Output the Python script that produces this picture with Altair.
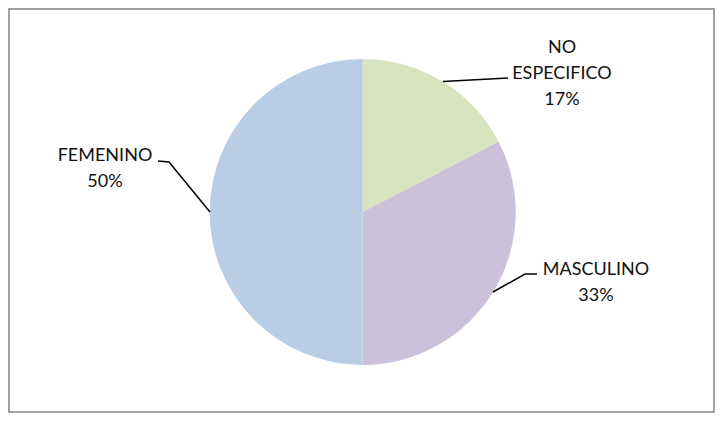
import altair as alt
import pandas as pd

# --- data ---
categories = ["NO ESPECIFICO", "MASCULINO", "FEMENINO"]
values = [17.4, 32.6, 50.0]
colors = ["#D7E4BD", "#CCC1DA", "#B9CDE5"]

# --- layout (pixels inside the chart) ---
W, H = 707, 405
CX, CY, R = 354.7, 204, 153
label_x = [554, 588, 97]
label_y = [45, 267, 153]
leader_x = [[435, 500], [485, 517, 529], [150, 161, 202]]
leader_y = [[73.5, 70], [284, 266, 266], [153, 154, 204]]

pie_df = pd.DataFrame({"cat": categories, "value": values, "idx": range(len(categories))})

lab_df = pd.DataFrame({
    "cat": categories,
    "text": ["\n".join(c.split(" ") + [f"{round(v):d}%"]) for c, v in zip(categories, values)],
    "lx": label_x,
    "ly": label_y,
})

rows = []
for c, xs, ys in zip(categories, leader_x, leader_y):
    for i, (x, y) in enumerate(zip(xs, ys)):
        rows.append({"cat": c, "i": i, "x": x, "y": y})
line_df = pd.DataFrame(rows)

frame = alt.Chart(pd.DataFrame({"a": [0]})).mark_rect(
    fill="white", stroke="#868686", strokeWidth=1.5
).encode(
    x=alt.value(1), x2=alt.value(W - 1), y=alt.value(1), y2=alt.value(H - 1)
)

pie = alt.Chart(pie_df).mark_arc(outerRadius=R).encode(
    theta=alt.Theta("value:Q", stack=True),
    color=alt.Color("cat:N", scale=alt.Scale(domain=categories, range=colors), legend=None),
    order=alt.Order("idx:Q"),
    x=alt.value(CX),
    y=alt.value(CY),
)

labels = alt.Chart(lab_df).mark_text(
    font="Lato", fontSize=18, color="#111111", align="center", baseline="alphabetic",
    lineBreak="\n", lineHeight=26,
).encode(
    x=alt.X("lx:Q", scale=None),
    y=alt.Y("ly:Q", scale=None),
    text="text:N",
)

leaders = alt.Chart(line_df).mark_line(color="#000000", strokeWidth=1.5).encode(
    x=alt.X("x:Q", scale=None),
    y=alt.Y("y:Q", scale=None),
    detail="cat:N",
    order="i:Q",
)

chart = alt.layer(frame, pie, leaders, labels).properties(
    width=W, height=H,
    autosize=alt.AutoSizeParams(type="fit", contains="padding"),
    padding=0,
).configure_view(strokeWidth=0).configure(background="white")

chart.save("out.html", embed_options={"renderer": "svg", "actions": False})
